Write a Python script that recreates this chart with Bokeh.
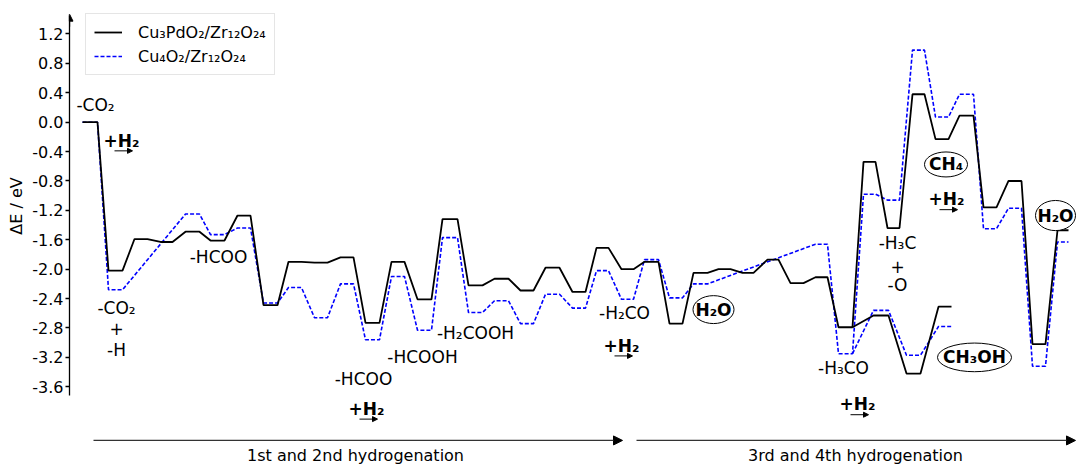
from bokeh.plotting import figure
from bokeh.models import Range1d, FixedTicker, PrintfTickFormatter, Arrow, NormalHead, Label
from bokeh.core.properties import value
from bokeh.embed import file_html
from bokeh.resources import INLINE

# ---- data -------------------------------------------------------------
# reaction-coordinate position of each intermediate level (flat start / end)
state_start = [82, 108, 134, 160, 185, 210, 237, 263, 288, 314, 340, 365, 391, 417, 442,
               468, 494, 520, 545, 572, 596, 621, 644, 669, 693, 718, 742, 767, 790, 815,
               838, 863, 887, 912, 935, 959, 983, 1008, 1032, 1057]
state_end = [97, 122, 147, 172, 199, 224, 250, 277, 301, 327, 353, 379, 404, 431, 457,
             482, 508, 533, 559, 585, 608, 633, 658, 682, 707, 730, 753, 778, 803, 827,
             852, 875, 899, 924, 948, 973, 996, 1021, 1045, 1068]

# energies (eV); None = level not reported for that catalyst
cu3pd_main = [0.00, -2.02, -1.59, -1.63, -1.49, -1.61, -1.27, -2.49, -1.90, -1.91,
              -1.84, -2.73, -1.90, -2.41, -1.32, -2.22, -2.13, -2.29, -1.98, -2.31,
              -1.71, -2.00, -1.90, -2.74, -2.05, -2.00, -2.05, -1.87, -2.19, -2.11,
              -2.79, -0.54, -1.44, 0.38, -0.23, 0.09, -1.16, -0.80, -3.02, -1.47]
cu4_main = [0.00, -2.28, None, None, -1.25, -1.53, -1.44, -2.46, -2.25, -2.66,
            -2.20, -2.96, -2.10, -2.83, -1.57, -2.59, -2.43, -2.74, -2.34, -2.53,
            -2.02, -2.41, -1.87, -2.39, -2.20, None, None, None, None, -1.66,
            -3.15, -0.98, -1.06, 0.98, 0.07, 0.38, -1.45, -1.17, -3.32, -1.63]

# CH3OH branch leaving the -H3CO level (state index 30)
branch_from = 30
branch_start = [873, 906, 938]
branch_end = [888, 920, 951]
cu3pd_branch = [-2.63, -3.42, -2.51]
cu4_branch = [-2.56, -3.17, -2.78]

y_ticks = [-3.6, -3.2, -2.8, -2.4, -2.0, -1.6, -1.2, -0.8, -0.4, 0.0, 0.4, 0.8, 1.2]

series_names = ["Cu\u2083PdO\u2082/Zr\u2081\u2082O\u2082\u2084", "Cu\u2084O\u2082/Zr\u2081\u2082O\u2082\u2084"]


def path(values):
    xs, ys = [], []
    for s, e, v in zip(state_start, state_end, values):
        if v is None:
            continue
        xs += [s, e]
        ys += [v, v]
    return xs, ys


def branch(values, main_values):
    xs = [state_end[branch_from]]
    ys = [main_values[branch_from]]
    for s, e, v in zip(branch_start, branch_end, values):
        xs += [s, e]
        ys += [v, v]
    return xs, ys


FONT = value("DejaVu Sans")

p = figure(width=1076, height=465, x_range=Range1d(69, 1076), y_range=Range1d(-4.671, 1.4925),
           output_backend="svg", toolbar_location=None, x_axis_location=None,
           min_border_left=69, min_border_right=0, min_border_top=12, min_border_bottom=0)
p.grid.visible = False
p.outline_line_color = None

ax = p.yaxis[0]
ax.ticker = FixedTicker(ticks=y_ticks)
ax.formatter = PrintfTickFormatter(format="%.1f")
ax.bounds = (-3.72, 1.45)
ax.axis_label = "\u00a0" * 13 + "\u0394E / eV"
ax.axis_label_text_font = "DejaVu Sans"
ax.axis_label_text_font_size = "16px"
ax.axis_label_text_font_style = "normal"
ax.axis_label_text_color = "black"
ax.axis_label_standoff = 3
ax.major_label_standoff = 2
ax.major_label_text_font = "DejaVu Sans"
ax.major_label_text_font_size = "16px"
ax.major_label_text_color = "black"
ax.major_tick_out = 4
ax.major_tick_in = 0
ax.minor_tick_out = 0
ax.minor_tick_in = 0
ax.axis_line_width = 1.3
ax.major_tick_line_width = 1.3
p.add_layout(Arrow(x_start=69, y_start=1.3, x_end=69, y_end=1.47, line_width=1.3,
                   end=NormalHead(size=7, fill_color="black", line_color="black")))

# ---- lines --------------------------------------------------------------
bx, by = path(cu3pd_main)
ux, uy = path(cu4_main)
bbx, bby = branch(cu3pd_branch, cu3pd_main)
ubx, uby = branch(cu4_branch, cu4_main)

p.line(ux, uy, line_color="#0000ff", line_width=1.6, line_dash="4 2", legend_label=series_names[1])
p.line(ubx, uby, line_color="#0000ff", line_width=1.6, line_dash="4 2")
p.line(bx, by, line_color="black", line_width=1.8, legend_label=series_names[0])
p.line(bbx, bby, line_color="black", line_width=1.8)

# reorder legend: black first
items = p.legend[0].items
p.legend[0].items = [items[1], items[0]]
lg = p.legend[0]
lg.location = (16, 390)
lg.label_text_font = "DejaVu Sans"
lg.label_text_font_size = "16px"
lg.label_text_color = "black"
lg.glyph_width = 28
lg.glyph_height = 20
lg.label_height = 20
lg.label_standoff = 16
lg.spacing = 4
lg.padding = 8
lg.margin = 0
lg.border_line_color = "#cccccc"
lg.border_line_width = 1.5
lg.background_fill_alpha = 1.0

# ---- ellipses around products ---------------------------------------------
ell_x = [713, 945.5, 1055, 974]
ell_y = [-2.55, -0.575, -1.27, -3.20]
p.ellipse(x=ell_x, y=ell_y, width=[41, 43, 40, 74], height=[0.38, 0.34, 0.41, 0.39],
          fill_color="white", line_color="black", line_width=1)
p.text(x=ell_x, y=ell_y, text=["H\u2082O", "CH\u2084", "H\u2082O", "CH\u2083OH"],
       text_font=FONT, text_font_size="17px", text_font_style="bold",
       text_align="center", text_baseline="middle", text_color="black")

# ---- intermediate labels ------------------------------------------------
lab_x = [95, 116, 116, 116, 218, 363, 422, 475, 624, 843, 897, 897, 897]
lab_y = [0.24, -2.53, -2.81, -3.10, -1.84, -3.49, -3.20, -2.87, -2.60, -3.35, -1.65, -1.97, -2.22]
lab_t = ["-CO\u2082", "-CO\u2082", "+", "-H", "-HCOO", "-HCOO", "-HCOOH", "-H\u2082COOH",
         "-H\u2082CO", "-H\u2083CO", "-H\u2083C", "+", "-O"]
p.text(x=lab_x, y=lab_y, text=lab_t, text_font=FONT, text_font_size="17px",
       text_align="center", text_baseline="middle", text_color="black")

# ---- +H2 markers ----------------------------------------------------------
h2_x = [121, 366, 621, 857, 946]
h2_y = [-0.25, -3.90, -3.04, -3.84, -1.05]
p.text(x=h2_x, y=h2_y, text=["+H\u2082"] * len(h2_x), text_font=FONT, text_font_size="17px",
       text_font_style="bold", text_align="center", text_baseline="middle", text_color="black")
for hx, hy in zip(h2_x, h2_y):
    p.add_layout(Arrow(x_start=hx - 7, y_start=hy - 0.14, x_end=hx + 11, y_end=hy - 0.14,
                       line_width=1, line_color="black",
                       end=NormalHead(size=5, fill_color="black", line_color="black")))

# ---- hydrogenation stage arrows ----------------------------------------------
p.add_layout(Arrow(x_start=93, y_start=-4.33, x_end=622, y_end=-4.33, line_width=1.3,
                   line_color="#333333",
                   end=NormalHead(size=9, fill_color="black", line_color="black")))
p.add_layout(Arrow(x_start=636, y_start=-4.33, x_end=1075, y_end=-4.33, line_width=1.3,
                   line_color="#333333",
                   end=NormalHead(size=9, fill_color="black", line_color="black")))
for tx, tt in [(355, "1st and 2nd hydrogenation"), (855, "3rd and 4th hydrogenation")]:
    p.add_layout(Label(x=tx, y=-4.40, text=tt, text_font="DejaVu Sans", text_font_size="16px",
                       text_align="center", text_baseline="top", text_color="black"))

open("out.html", "w").write(file_html(p, INLINE))
